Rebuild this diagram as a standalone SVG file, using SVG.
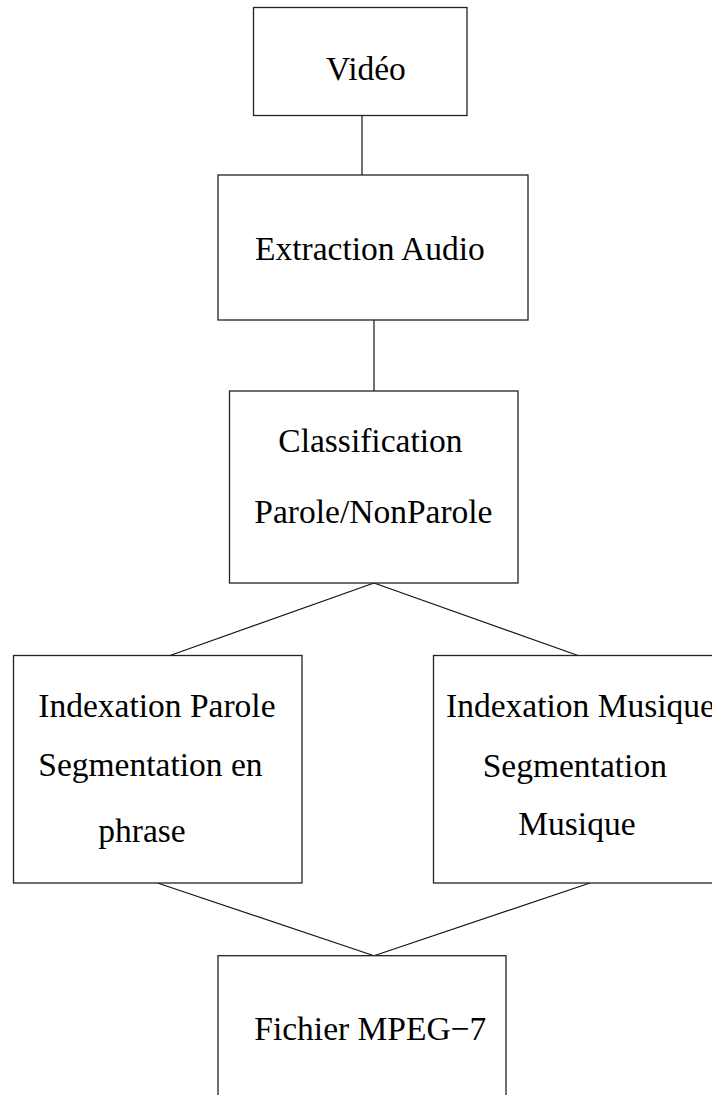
<svg xmlns="http://www.w3.org/2000/svg" width="712" height="1095" viewBox="0 0 712 1095">
<style>
.box{fill:#fff;stroke:#222;stroke-width:1.3}
.edge{fill:none;stroke:#111;stroke-width:1.2}
text{font-family:"Liberation Serif","Times New Roman",serif;font-size:33.5px;fill:#000}
</style>
<rect width="712" height="1095" fill="#fff"/>
<g id="connectors">
<line class="edge" x1="362" y1="115.5" x2="362" y2="175"/>
<line class="edge" x1="374" y1="320" x2="374" y2="391"/>
<line class="edge" x1="374" y1="583" x2="170" y2="655.5"/>
<line class="edge" x1="374" y1="583" x2="578" y2="655.5"/>
<line class="edge" x1="157.5" y1="883" x2="374" y2="955.7"/>
<line class="edge" x1="590" y1="883" x2="374" y2="955.7"/>
</g>
<g id="video">
<rect class="box" x="253.5" y="7.5" width="213.5" height="108"/>
<text x="326" y="80">Vidéo</text>
</g>
<g id="extraction">
<rect class="box" x="218" y="175" width="310" height="145"/>
<text x="255" y="260">Extraction Audio</text>
</g>
<g id="classification">
<rect class="box" x="229.5" y="391" width="288.5" height="192"/>
<text x="278.3" y="451.7">Classification</text>
<text x="254.3" y="523">Parole/NonParole</text>
</g>
<g id="indexparole">
<rect class="box" x="13.5" y="655.5" width="288.5" height="227.5"/>
<text x="38.3" y="716.7">Indexation Parole</text>
<text x="38.3" y="776">Segmentation en</text>
<text x="98.3" y="841.7">phrase</text>
</g>
<g id="indexmusique">
<rect class="box" x="433.5" y="655.5" width="288.5" height="227.5"/>
<text x="446" y="716.7">Indexation Musique</text>
<text x="482.7" y="776.7">Segmentation</text>
<text x="518.3" y="835">Musique</text>
</g>
<g id="mpeg7">
<rect class="box" x="218" y="955.7" width="288" height="180"/>
<text x="254.3" y="1040">Fichier MPEG−7</text>
</g>
</svg>
